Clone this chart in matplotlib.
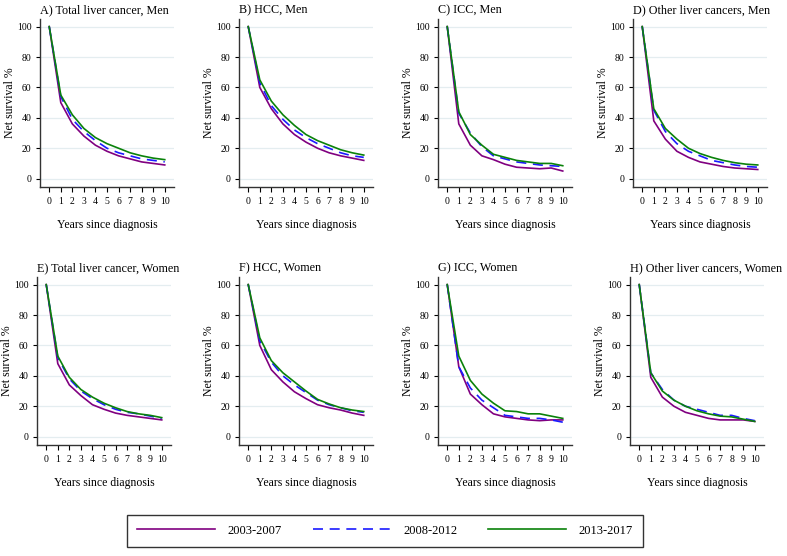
import matplotlib
matplotlib.use("Agg")
import matplotlib.pyplot as plt

plt.rcParams['font.family'] = ['Liberation Serif', 'DejaVu Serif']

years = list(range(0, 11))
periods = ["2003-2007", "2008-2012", "2013-2017"]

titles = ["A) Total liver cancer, Men", "B) HCC, Men", "C) ICC, Men", "D) Other liver cancers, Men",
          "E) Total liver cancer, Women", "F) HCC, Women", "G) ICC, Women", "H) Other liver cancers, Women"]

# Net survival (%) per panel: [2003-2007, 2008-2012, 2013-2017]
total_men = [
    [100, 50, 36, 28, 22, 18, 15, 13, 11, 10, 9],
    [100, 54, 39, 31, 25, 20, 17, 15, 13, 12, 11],
    [100, 55, 42, 33, 27, 23, 20, 17, 15, 13.5, 12.5],
]
hcc_men = [
    [100, 60, 46, 36, 29, 24, 20, 17, 15, 13.5, 12],
    [100, 63, 48, 39, 32, 27, 23, 20, 17, 15, 14],
    [100, 65, 51, 42, 35, 29, 25, 22, 19, 17, 15.5],
]
icc_men = [
    [100, 36, 22, 15, 12.5, 9.5, 7.5, 7, 6.5, 7, 5],
    [100, 43, 30, 21, 15, 13, 11, 10, 9, 8.5, 8],
    [100, 44, 29, 22, 16, 14, 12, 11, 10, 10, 8.5],
]
other_men = [
    [100, 38, 26, 18, 14, 11, 9.5, 8, 7, 6.5, 6],
    [100, 45, 31, 23, 18, 15, 12, 10.5, 9, 8, 7.5],
    [100, 46, 33, 26, 20, 16.5, 14, 12, 10.5, 9.5, 9],
]
total_women = [
    [100, 48, 34, 27, 21, 18, 15.5, 14, 13, 12, 11],
    [100, 52, 38, 30, 25, 21, 18, 16, 15, 13.5, 12],
    [100, 53, 39, 31, 26, 22, 19, 16.5, 15, 14, 12.5],
]
hcc_women = [
    [100, 60, 44, 36, 29.5, 25, 21, 19, 17.5, 15.5, 14],
    [100, 63, 49, 40, 34, 29, 24, 21, 19, 17, 16],
    [100, 65, 50, 42, 36, 30, 24.5, 21.5, 19, 17.5, 16.5],
]
icc_women = [
    [100, 46, 28, 21, 15, 13, 12, 11, 10.5, 11, 11],
    [100, 46, 32, 24, 19, 14, 13, 12, 12, 11, 9.5],
    [100, 53, 37, 28, 22, 17, 16.5, 15, 15, 13.5, 12],
]
other_women = [
    [100, 39, 26, 20, 16, 14, 12, 11, 11, 11, 10],
    [100, 42, 31, 24, 20, 18, 16, 14, 14, 12, 10.5],
    [100, 42, 30, 24, 20, 17, 15, 13.5, 13, 11.5, 10],
]
panels = [total_men, hcc_men, icc_men, other_men,
          total_women, hcc_women, icc_women, other_women]

colors = ["#800080", "#1a1aff", "#0a820a"]
styles = [dict(linestyle="-"), dict(linestyle=(0, (6, 4))), dict(linestyle="-")]

W, H = 787, 556
fig = plt.figure(figsize=(W / 100, H / 100), dpi=100)

col_left = [40, 239, 438, 633]
ax_w = 134
row_top = [19, 277]
ax_h = 168

handles = []
for i, data in enumerate(panels):
    r, c = divmod(i, 4)
    left = col_left[c] - (3 if r == 1 and c in (0, 3) else 0)
    ax = fig.add_axes([left / W, 1 - (row_top[r] + ax_h) / H, ax_w / W, ax_h / H])
    for yv in range(0, 101, 20):
        ax.axhline(yv, color="#e4edf0", lw=0.9, zorder=0)
    for k in range(3):
        ln, = ax.plot(years, data[k], color=colors[k], lw=1.2, **styles[k])
        if i == 0:
            handles.append(ln)
    ax.set_xlim(-0.8, 10.8)
    ax.set_ylim(-5.5, 105)
    ax.set_xticks(years)
    ax.set_yticks(range(0, 101, 20))
    ax.tick_params(axis="y", labelsize=7, length=3, width=0.8, pad=3)
    ax.tick_params(axis="x", labelsize=7, length=3.5, width=0.8, pad=4)
    for s in ["top", "right"]:
        ax.spines[s].set_visible(False)
    for s in ["left", "bottom"]:
        ax.spines[s].set_linewidth(1.0)
        ax.spines[s].set_color("#333333")
    ax.set_ylabel("Net survival %", fontsize=8.5, labelpad=1)
    ax.set_xlabel("Years since diagnosis", fontsize=8.5, labelpad=9)
    ax.set_title(titles[i], fontsize=8.7, loc="left", pad=4)

leg = fig.legend(handles, periods, loc="center", bbox_to_anchor=(385 / W, 1 - 530.5 / H),
                 ncol=3, fontsize=9, handlelength=6.2, handletextpad=1.0, columnspacing=2.5,
                 frameon=True, fancybox=False, edgecolor="black", borderpad=0.8)
leg.get_frame().set_linewidth(1.0)

fig.savefig("out.png", dpi=100, facecolor="white")
